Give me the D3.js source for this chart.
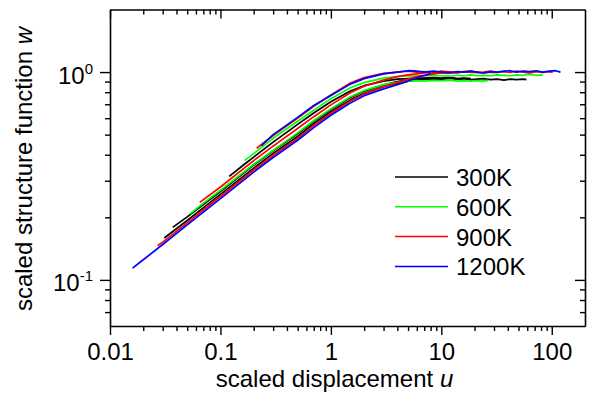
<!DOCTYPE html>
<html>
<head>
<meta charset="utf-8">
<style>
  body { margin: 0; background: #fff; }
  svg text { font-family: "Liberation Sans", Arial, sans-serif; fill: #000; }
</style>
</head>
<body>
<svg id="chart" width="596" height="396"></svg>
<script src="https://d3js.org/d3.v7.min.js"></script>
<script>
  // legend / colours
  const temps = ['300K', '600K', '900K', '1200K'];
  const colors = ['#000000', '#00ff00', '#ff0000', '#0000ff'];

  // 300K curves (u, w)
  const u300a = [0.031, 0.05, 0.1, 0.2, 0.3, 0.5, 0.7, 1, 1.5, 2, 3, 4, 5, 6, 7, 8.5, 10, 12, 13.5, 15.5];
  const w300a = [0.159, 0.193, 0.258, 0.345, 0.406, 0.49, 0.565, 0.645, 0.735, 0.79, 0.85, 0.885, 0.905, 0.915, 0.925, 0.93, 0.925, 0.935, 0.93, 0.925];
  const u300b = [0.037, 0.05, 0.1, 0.2, 0.3, 0.5, 0.7, 1, 1.5, 2, 3, 4, 5, 6, 7, 8.5, 10, 12, 14, 16, 18.5];
  const w300b = [0.179, 0.201, 0.266, 0.357, 0.418, 0.505, 0.58, 0.66, 0.755, 0.81, 0.868, 0.9, 0.918, 0.928, 0.935, 0.94, 0.935, 0.94, 0.93, 0.935, 0.93];
  const u300c = [0.12, 0.166, 0.2, 0.3, 0.5, 0.7, 1, 1.5, 2, 3, 4, 5, 6, 7, 8.5, 10, 12, 14, 16, 18.5, 21, 24, 28, 32, 37, 42, 48, 55, 59];
  const w300c = [0.315, 0.361, 0.39, 0.46, 0.56, 0.635, 0.72, 0.81, 0.86, 0.905, 0.925, 0.93, 0.935, 0.93, 0.925, 0.93, 0.935, 0.925, 0.93, 0.92, 0.925, 0.93, 0.92, 0.925, 0.915, 0.925, 0.92, 0.925, 0.92];

  // 600K curves
  const u600a = [0.053, 0.07, 0.1, 0.2, 0.3, 0.5, 0.7, 1, 1.5, 2, 3, 4, 5, 6, 7, 8.5, 10, 12, 14, 16, 18.5, 21, 24, 26.5];
  const w600a = [0.208, 0.234, 0.27, 0.36, 0.42, 0.51, 0.585, 0.665, 0.76, 0.815, 0.87, 0.893, 0.905, 0.91, 0.905, 0.912, 0.908, 0.915, 0.905, 0.91, 0.903, 0.91, 0.905, 0.912];
  const u600b = [0.166, 0.2, 0.3, 0.5, 0.7, 1, 1.5, 2, 3, 4, 5, 6, 7, 8.5, 10, 12, 14, 16, 18.5, 21, 24, 28, 32, 37, 42, 48, 55, 63, 72, 83];
  const w600b = [0.376, 0.405, 0.48, 0.58, 0.655, 0.745, 0.84, 0.89, 0.935, 0.952, 0.96, 0.955, 0.96, 0.965, 0.96, 0.955, 0.965, 0.96, 0.97, 0.96, 0.965, 0.96, 0.97, 0.965, 0.96, 0.97, 0.965, 0.975, 0.965, 0.97];

  // 900K curves
  const u900a = [0.027, 0.03, 0.05, 0.1, 0.2, 0.3, 0.5, 0.7, 1, 1.5, 2, 3, 4, 5, 6, 7, 8.5, 10, 11.5, 13.5];
  const w900a = [0.146, 0.152, 0.188, 0.252, 0.338, 0.397, 0.48, 0.553, 0.632, 0.725, 0.785, 0.85, 0.89, 0.925, 0.95, 0.965, 0.98, 0.99, 0.985, 0.995];
  const u900b = [0.065, 0.1, 0.2, 0.3, 0.5, 0.7, 1, 1.5, 2, 3, 4, 5, 6, 7, 8.5, 10, 12, 14, 16, 18.5, 21, 24, 28, 32.5];
  const w900b = [0.236, 0.28, 0.375, 0.44, 0.535, 0.61, 0.695, 0.795, 0.855, 0.915, 0.95, 0.97, 0.98, 0.99, 0.995, 0.99, 1.0, 0.995, 1.005, 0.995, 1.0, 0.99, 1.0, 0.995];
  const u900c = [0.213, 0.3, 0.5, 0.7, 1, 1.5, 2, 3, 4, 5, 6, 7, 8.5, 10, 12, 14, 16, 18.5, 21, 24, 28, 32, 37, 42, 48, 55, 63, 72, 83, 95, 102];
  const w900c = [0.43, 0.495, 0.60, 0.685, 0.775, 0.885, 0.94, 0.985, 1.0, 1.01, 1.0, 1.005, 0.995, 1.01, 1.0, 0.99, 1.005, 1.01, 0.995, 1.0, 1.01, 0.995, 1.005, 0.995, 1.01, 1.0, 0.99, 1.005, 0.995, 1.005, 0.995];

  // 1200K curves
  const u1200a = [0.016, 0.02, 0.03, 0.05, 0.1, 0.2, 0.3, 0.5, 0.7, 1, 1.5, 2, 3, 4, 5, 6.4, 7.2, 8];
  const w1200a = [0.114, 0.125, 0.148, 0.184, 0.246, 0.33, 0.388, 0.47, 0.54, 0.62, 0.71, 0.77, 0.83, 0.87, 0.905, 0.95, 0.965, 0.985];
  const u1200b = [0.235, 0.3, 0.5, 0.7, 1, 1.5, 2, 3, 4, 5, 6, 7, 8.5, 10, 12, 14, 16, 18.5, 21, 24, 28, 32, 37, 42, 48, 55, 63, 72, 83, 95, 108, 120];
  const w1200b = [0.443, 0.50, 0.605, 0.69, 0.772, 0.875, 0.93, 0.98, 1.0, 1.015, 1.01, 1.0, 1.01, 1.0, 0.995, 1.005, 1.0, 1.01, 1.0, 0.99, 1.005, 1.0, 1.01, 1.015, 1.0, 1.01, 1.005, 1.015, 1.0, 1.01, 1.015, 1.0];

  const series = [
    { t: 0, u: u300a, w: w300a }, { t: 0, u: u300b, w: w300b }, { t: 0, u: u300c, w: w300c },
    { t: 1, u: u600a, w: w600a }, { t: 1, u: u600b, w: w600b },
    { t: 2, u: u900a, w: w900a }, { t: 2, u: u900b, w: w900b }, { t: 2, u: u900c, w: w900c },
    { t: 3, u: u1200a, w: w1200a }, { t: 3, u: u1200b, w: w1200b }
  ];

  const xMajor = [0.01, 0.1, 1, 10, 100];
  const xLabels = ['0.01', '0.1', '1', '10', '100'];
  const yMajor = [0.1, 1];
  const yExp = ['-1', '0'];

  const svg = d3.select('#chart');
  const plotL = 110, plotR = 585, plotT = 9.5, plotB = 326;

  const x = d3.scaleLog().domain([0.01, 200]).range([plotL, plotR]);
  const y = d3.scaleLog().domain([0.06, 2]).range([plotB, plotT]);

  // minor tick positions
  const xMinor = [];
  [0.01, 0.1, 1, 10, 100].forEach(d => { for (let k = 2; k <= 9; k++) if (d * k < 200) xMinor.push(d * k); });
  const yMinor = [0.07, 0.08, 0.09, 0.2, 0.3, 0.4, 0.5, 0.6, 0.7, 0.8, 0.9];

  // curves
  const line = d3.line().x(d => x(d[0])).y(d => y(d[1]));
  svg.append('g')
    .selectAll('path')
    .data(series)
    .join('path')
    .attr('fill', 'none')
    .attr('stroke', d => colors[d.t])
    .attr('stroke-width', 1.7)
    .attr('stroke-linejoin', 'round')
    .attr('d', d => line(d.u.map((u, i) => [u, d.w[i]])));

  function styleAxis(g) {
    g.select('.domain').attr('stroke', '#000').attr('stroke-width', 1.6);
    g.selectAll('.tick line').attr('stroke', '#000').attr('stroke-width', 1.4);
  }

  // bottom
  svg.append('g').attr('transform', `translate(0,${plotB})`)
    .call(d3.axisBottom(x).tickValues(xMajor).tickSize(9).tickSizeOuter(0).tickPadding(8)
      .tickFormat((d, i) => xLabels[i]))
    .call(styleAxis)
    .call(g => g.selectAll('text').attr('font-size', 24).attr('font-family', null));
  svg.append('g').attr('transform', `translate(0,${plotB})`)
    .call(d3.axisBottom(x).tickValues(xMinor).tickSize(5).tickFormat(''))
    .call(styleAxis).call(g => g.select('.domain').remove());

  // top (ticks inward)
  svg.append('g').attr('transform', `translate(0,${plotT})`)
    .call(d3.axisTop(x).tickValues(xMajor).tickSize(-9).tickSizeOuter(0).tickFormat(''))
    .call(styleAxis);
  svg.append('g').attr('transform', `translate(0,${plotT})`)
    .call(d3.axisTop(x).tickValues(xMinor).tickSize(-5).tickFormat(''))
    .call(styleAxis).call(g => g.select('.domain').remove());

  // left
  const yAx = svg.append('g').attr('transform', `translate(${plotL},0)`)
    .call(d3.axisLeft(y).tickValues(yMajor).tickSize(10).tickSizeOuter(0).tickFormat(''))
    .call(styleAxis);
  yAx.selectAll('.tick').append('text')
    .attr('x', -17).attr('y', 11)
    .attr('text-anchor', 'end')
    .attr('font-size', 24)
    .each(function (d, i) {
      const t = d3.select(this);
      t.append('tspan').text('10');
      t.append('tspan').attr('dy', -10).attr('font-size', 15).text(yExp[i]);
    });
  svg.append('g').attr('transform', `translate(${plotL},0)`)
    .call(d3.axisLeft(y).tickValues(yMinor).tickSize(5).tickFormat(''))
    .call(styleAxis).call(g => g.select('.domain').remove());

  // right (ticks inward)
  svg.append('g').attr('transform', `translate(${plotR},0)`)
    .call(d3.axisRight(y).tickValues(yMajor).tickSize(-10).tickSizeOuter(0).tickFormat(''))
    .call(styleAxis);
  svg.append('g').attr('transform', `translate(${plotR},0)`)
    .call(d3.axisRight(y).tickValues(yMinor).tickSize(-5).tickFormat(''))
    .call(styleAxis).call(g => g.select('.domain').remove());

  // axis titles
  const xt = svg.append('text').attr('x', (plotL + plotR) / 2 - 13).attr('y', 387)
    .attr('text-anchor', 'middle').attr('font-size', 24);
  xt.append('tspan').text('scaled displacement ');
  xt.append('tspan').attr('font-style', 'italic').text('u');

  const yt = svg.append('text').attr('transform', 'translate(32,169) rotate(-90)')
    .attr('text-anchor', 'middle').attr('font-size', 24);
  yt.append('tspan').text('scaled structure function ');
  yt.append('tspan').attr('font-style', 'italic').text('w');

  // legend
  const leg = svg.append('g').selectAll('g').data(temps).join('g')
    .attr('transform', (d, i) => `translate(395,${177 + i * 29.8})`);
  leg.append('line').attr('x1', 0).attr('x2', 53)
    .attr('stroke', (d, i) => colors[i]).attr('stroke-width', 1.5);
  leg.append('text').attr('x', 61).attr('y', 9).attr('font-size', 24).text(d => d);
</script>
</body>
</html>
